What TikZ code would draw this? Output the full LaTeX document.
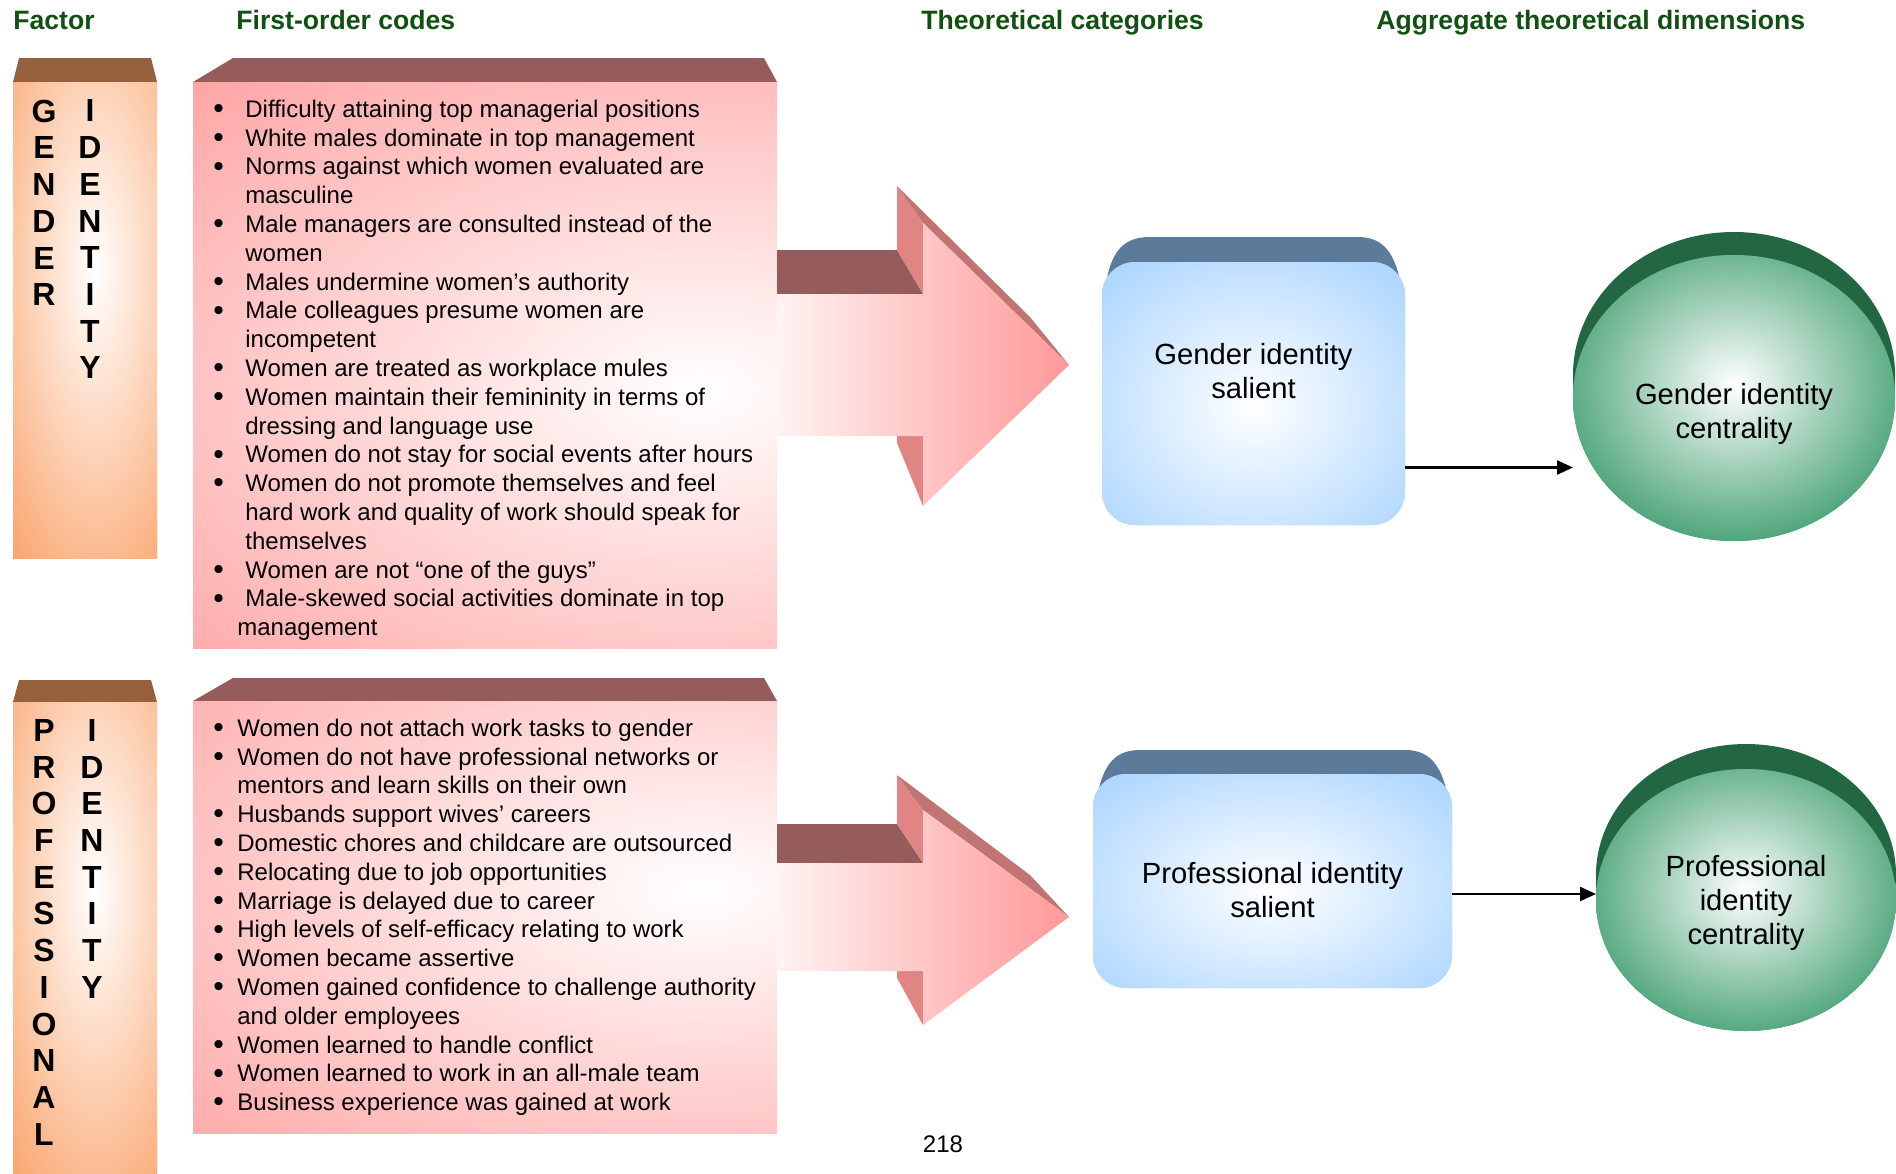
\documentclass[tikz,border=0pt]{standalone}
\usepackage{fontspec}
\setmainfont{Liberation Sans}
\usetikzlibrary{arrows.meta,shapes.geometric}

\definecolor{headgreen}{RGB}{16,80,16}
\definecolor{capbrown}{RGB}{150,96,60}
\definecolor{colorange}{RGB}{250,164,108}
\definecolor{caprose}{RGB}{150,91,91}
\definecolor{boxpink}{RGB}{255,153,153}
\definecolor{arrowside}{RGB}{224,132,132}
\definecolor{arrowedge}{RGB}{192,116,116}
\definecolor{capblue}{RGB}{92,122,153}
\definecolor{boxblue}{RGB}{153,204,255}
\definecolor{ovalgreen}{RGB}{58,155,107}
\definecolor{backgreen}{RGB}{35,102,66}

\newcommand{\dotmark}{\raisebox{-0.6pt}{\fontsize{15}{15}\selectfont\textbullet}}
\newcommand{\gb}{\makebox[16pt][l]{\dotmark}}
\newcommand{\pb}{\makebox[12pt][l]{\dotmark}}

\tikzset{
  heading/.style={font=\fontsize{13.3}{15}\selectfont\bfseries, text=headgreen, anchor=base west, inner sep=0pt},
  letters/.style={font=\fontsize{16}{18.35}\selectfont\bfseries, align=center, anchor=north, inner sep=0pt},
  codes/.style={font=\fontsize{12}{14.4}\selectfont, align=left, anchor=north west, inner sep=0pt},
  catbox/.style={rectangle, rounded corners=16.5pt, fill=boxblue, inner sep=0pt, outer sep=0pt},
  dimoval/.style={ellipse, fill=ovalgreen, inner sep=0pt, outer sep=0pt},
  idtext/.style={font=\fontsize{14.6}{17}\selectfont, align=center, inner sep=0pt},
  link/.style={-{Triangle[length=8pt,width=7pt]}, line width=1.2pt},
}

\begin{document}
\begin{tikzpicture}[x=0.5pt, y=-0.5pt]
\useasboundingbox (0,0) rectangle (1896,1173);

% Heading
\node[heading] (hfactor) at (13,29)   {Factor};
\node[heading] (hcodes)  at (236,29)  {First-order codes};
\node[heading] (hcat)    at (921,29)  {Theoretical categories};
\node[heading] (hdim)    at (1376,29) {Aggregate theoretical dimensions};

%------------------------------------------------------
% gender column
\fill[capbrown]  (13,82) -- (19,58) -- (151,58) -- (157,82) -- cycle;
\fill[colorange] (13,82) rectangle (157,558);
\begin{scope}
\clip (13,82) rectangle (157,558);
\shade[inner color=white, outer color=colorange] (95,270) ellipse [x radius=65pt, y radius=190pt];
\end{scope}
\node[letters] (gname)  at (44,99.5) {G\\E\\N\\D\\E\\R};
\node[letters] (gident) at (90,99.5) {I\\D\\E\\N\\T\\I\\T\\Y};

% gender codes
\fill[caprose] (193,82) -- (233,58) -- (764,58) -- (777,82) -- cycle;
\fill[boxpink] (193,82) rectangle (777,648);
\begin{scope}
\clip (193,82) rectangle (777,648);
\shade[inner color=white, outer color=boxpink] (700,390) ellipse [x radius=420pt, y radius=240pt];
\end{scope}
\node[codes] (gcodes) at (213,99.5) {\gb Difficulty attaining top managerial positions\\
\gb White males dominate in top management\\
\gb Norms against which women evaluated are\\
\hspace*{16pt}masculine\\
\gb Male managers are consulted instead of the\\
\hspace*{16pt}women\\
\gb Males undermine women’s authority\\
\gb Male colleagues presume women are\\
\hspace*{16pt}incompetent\\
\gb Women are treated as workplace mules\\
\gb Women maintain their femininity in terms of\\
\hspace*{16pt}dressing and language use\\
\gb Women do not stay for social events after hours\\
\gb Women do not promote themselves and feel\\
\hspace*{16pt}hard work and quality of work should speak for\\
\hspace*{16pt}themselves\\
\gb Women are not “one of the guys”\\
\gb Male-skewed social activities dominate in top\\
\hspace*{12pt}management};

% gender arrow
\fill[caprose]   (777,250) -- (897,250) -- (923,294) -- (777,294) -- cycle;
\fill[arrowside] (897,186) -- (923,223) -- (923,294) -- (897,250) -- cycle;
\fill[arrowside] (897,436) -- (923,436) -- (923,506) -- (897,443) -- cycle;
\fill[arrowedge] (897,186) -- (1030,317) -- (1069,365) -- (923,223) -- cycle;
\shade[left color=boxpink!12!white, right color=boxpink]
  (777,294) -- (923,294) -- (923,223) -- (1069,365) -- (923,506) -- (923,436) -- (777,436) -- cycle;

% gender categories
\fill[capblue] (1104,300) .. controls (1108,255) and (1120,237) .. (1150,237) -- (1358,237)
  .. controls (1385,237) and (1398,255) .. (1403,300) -- cycle;
\node[catbox, minimum width=151.5pt, minimum height=131.5pt,
  path picture={\shade[inner color=white, outer color=boxblue] ([yshift=-6.5pt]path picture bounding box.center) ellipse [x radius=130pt, y radius=115pt];}]
  (gsal) at (1253.5,393.5) {};
\node[idtext] (gsaltext) at ([yshift=11pt]gsal.center) {Gender identity\\salient};

\fill[backgreen] (1734,375) ellipse [x radius=80.5pt, y radius=71.5pt];
\fill[backgreen] (1573,375) rectangle (1895,398);
\node[dimoval, minimum width=161pt, minimum height=143pt,
  path picture={\shade[inner color=white, outer color=ovalgreen] ([yshift=7pt]path picture bounding box.center) ellipse [x radius=98pt, y radius=88pt];}]
  (gcen) at (1734,398) {};
\node[idtext] (gcentext) at ([yshift=-8pt]gcen.center) {Gender identity\\centrality};

\coordinate (gout) at ([yshift=-37pt]gsal.east);
\draw[link] (gout) -- (gout -| gcen.west);

%------------------------------------------------------
% professional column
\fill[capbrown]  (13,702) -- (19,680) -- (151,680) -- (157,702) -- cycle;
\fill[colorange] (13,702) rectangle (157,1173);
\begin{scope}
\clip (13,702) rectangle (157,1173);
\shade[inner color=white, outer color=colorange] (95,890) ellipse [x radius=65pt, y radius=190pt];
\end{scope}
\node[letters] (pname)  at (44,719) {P\\R\\O\\F\\E\\S\\S\\I\\O\\N\\A\\L};
\node[letters] (pident) at (92,719) {I\\D\\E\\N\\T\\I\\T\\Y};

% professional codes
\fill[caprose] (193,701) -- (233,678) -- (764,678) -- (777,701) -- cycle;
\fill[boxpink] (193,701) rectangle (777,1133);
\begin{scope}
\clip (193,701) rectangle (777,1133);
\shade[inner color=white, outer color=boxpink] (700,890) ellipse [x radius=420pt, y radius=220pt];
\end{scope}
\node[codes] (pcodes) at (213,718.5) {\pb Women do not attach work tasks to gender\\
\pb Women do not have professional networks or\\
\hspace*{12pt}mentors and learn skills on their own\\
\pb Husbands support wives’ careers\\
\pb Domestic chores and childcare are outsourced\\
\pb Relocating due to job opportunities\\
\pb Marriage is delayed due to career\\
\pb High levels of self-efficacy relating to work\\
\pb Women became assertive\\
\pb Women gained confidence to challenge authority\\
\hspace*{12pt}and older employees\\
\pb Women learned to handle conflict\\
\pb Women learned to work in an all-male team\\
\pb Business experience was gained at work};

% professional arrow
\fill[caprose]   (777,824) -- (897,824) -- (923,863) -- (777,863) -- cycle;
\fill[arrowside] (897,775) -- (923,810) -- (923,863) -- (897,824) -- cycle;
\fill[arrowside] (897,971) -- (923,971) -- (923,1025) -- (897,978) -- cycle;
\fill[arrowedge] (897,775) -- (1030,875) -- (1069,917) -- (923,810) -- cycle;
\shade[left color=boxpink!12!white, right color=boxpink]
  (777,863) -- (923,863) -- (923,810) -- (1069,917) -- (923,1025) -- (923,971) -- (777,971) -- cycle;

% professional categories
\fill[capblue] (1095,812) .. controls (1100,768) and (1112,750) .. (1140,750) -- (1405,750)
  .. controls (1432,750) and (1445,768) .. (1450,812) -- cycle;
\node[catbox, minimum width=179.5pt, minimum height=107pt,
  path picture={\shade[inner color=white, outer color=boxblue] ([yshift=-4pt]path picture bounding box.center) ellipse [x radius=150pt, y radius=95pt];}]
  (psal) at (1272.5,881) {};
\node[idtext] (psaltext) at ([yshift=-4.5pt]psal.center) {Professional identity\\salient};

\fill[backgreen] (1746,875) ellipse [x radius=75pt, y radius=65.5pt];
\fill[backgreen] (1596,875) rectangle (1895,900);
\node[dimoval, minimum width=150pt, minimum height=131pt,
  path picture={\shade[inner color=white, outer color=ovalgreen] ([yshift=5pt]path picture bounding box.center) ellipse [x radius=92pt, y radius=82pt];}]
  (pcen) at (1746,900) {};
\node[idtext] (pcentext) at ([yshift=-1.5pt]pcen.center) {Professional\\identity\\centrality};

\coordinate (pout) at ([yshift=-6.5pt]psal.east);
\draw[link] (pout) -- (pout -| pcen.west);

% page number
\node[font=\fontsize{12}{14}\selectfont, anchor=base] (pageno) at (943,1152) {218};
\end{tikzpicture}
\end{document}
